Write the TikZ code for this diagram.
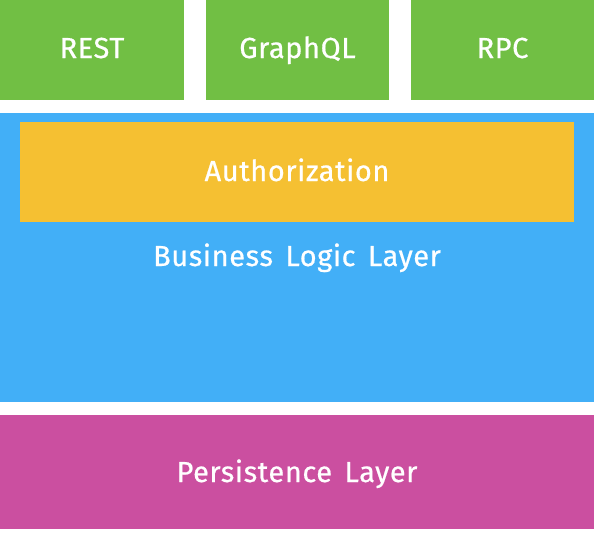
\documentclass[tikz,border=0pt]{standalone}
\usepackage{fontspec}
\setmainfont[LetterSpace=2, WordSpace=1.5, FakeBold=0.6]{Fira Sans}
\definecolor{apigreen}{HTML}{71BF44}
\definecolor{logicblue}{HTML}{42AFF7}
\definecolor{authyellow}{HTML}{F5C032}
\definecolor{storepink}{HTML}{CB4FA0}
\begin{document}
\begin{tikzpicture}[x=1pt, y=-1pt, every node/.style={font=\fontsize{29}{34}\selectfont, text=white, anchor=base, inner sep=0pt}]
  \useasboundingbox (0,0) rectangle (594,558);
  % top api boxes
  \foreach \xl/\xr/\nm/\txt in {0/184/rest/REST, 206/389/gql/GraphQL, 411/594/rpc/RPC} {
    \fill[apigreen] (\xl,0) rectangle (\xr,100);
    \node (\nm) at ({(\xl+\xr)/2},58) {\txt};
  }
  % business logic layer
  \fill[logicblue] (0,113) rectangle (594,402);
  \fill[authyellow] (20,122) rectangle (574,222);
  \node (auth) at (297,181) {Authorization};
  \node (logic) at (297,266) {Business Logic Layer};
  % persistence layer
  \fill[storepink] (0,415) rectangle (594,529);
  \node (store) at (297,482) {Persistence Layer};
\end{tikzpicture}
\end{document}
